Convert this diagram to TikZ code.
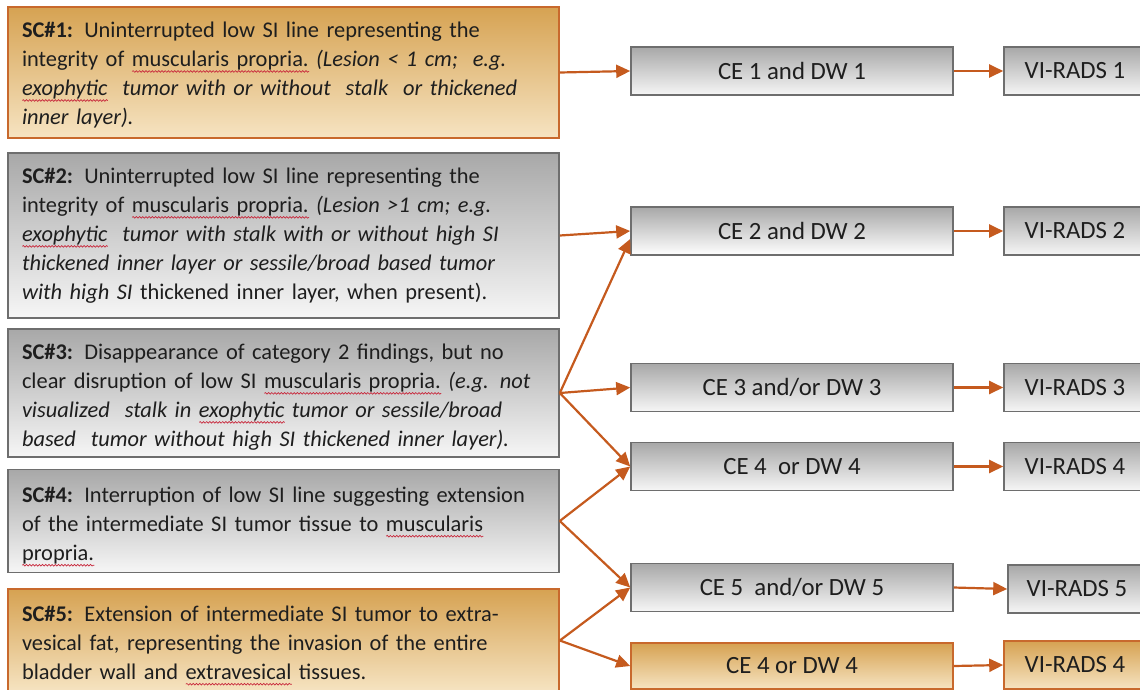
\documentclass[tikz,border=0pt]{standalone}
\usepackage{fontspec}
\setmainfont{Carlito}
\usetikzlibrary{arrows.meta,decorations.pathmorphing}
\definecolor{arr}{RGB}{197,90,30}
\definecolor{obord}{RGB}{200,105,45}
\definecolor{otop}{RGB}{214,162,82}
\definecolor{obot}{RGB}{246,228,194}
\definecolor{gbord}{RGB}{110,110,110}
\definecolor{gtop}{RGB}{168,168,168}
\definecolor{gbot}{RGB}{246,246,246}
\definecolor{txt}{RGB}{30,30,30}
\definecolor{wave}{RGB}{200,40,60}
\newsavebox\wbox
\newcommand\redwave[1]{\leavevmode\sbox\wbox{#1}\rlap{\tikz[baseline=0pt]\draw[wave,line width=0.7pt,decorate,decoration={snake,amplitude=0.8pt,segment length=3.2pt}] (0pt,-5pt) -- (\wd\wbox,-5pt);}\usebox\wbox}
\begin{document}
\begin{tikzpicture}[x=1pt,y=-1pt,font=\fontsize{22.4}{29}\selectfont,text=txt,
  sc/.style={draw,line width=1.6pt,minimum width=551pt,minimum height=#1,inner sep=0pt},
  sctext/.style={text width=523pt,inner sep=0pt,align=left},
  obox/.style={draw=obord,top color=otop,bottom color=obot},
  gbox/.style={draw=gbord,top color=gtop,bottom color=gbot},
  mid/.style={draw,line width=1.6pt,minimum width=322pt,minimum height=48pt,inner sep=0pt,font=\fontsize{24.8}{29}\selectfont},
  rad/.style={draw,line width=1.6pt,minimum width=142pt,minimum height=48pt,inner sep=0pt,font=\fontsize{24.8}{29}\selectfont},
  link/.style={draw=arr,line width=2.2pt,-{Triangle[length=14pt,width=13pt]}}]
\useasboundingbox (0,0) rectangle (1140,689);
\clip (0,0) rectangle (1140,689);

% left boxes
\node[sc=131pt,obox] (sc1) at (283.5,72.5) {};
\node[sctext] (t1) at ([yshift=-2.5pt]sc1.center) {\textbf{SC\#1:} Uninterrupted low SI line representing the\\
integrity of \redwave{muscularis propria.} \textit{(Lesion < 1 cm;\ \ e.g.}\\
\textit{\redwave{exophytic}\ \ tumor with or without\ \ stalk\ \ or thickened}\\
\textit{inner layer).}};

\node[sc=165pt,gbox] (sc2) at (283.5,235.5) {};
\node[sctext] (t2) at (sc2.center) {\textbf{SC\#2:} Uninterrupted low SI line representing the\\
integrity of \redwave{muscularis propria.} \textit{(Lesion >1 cm; e.g.}\\
\textit{\redwave{exophytic}\ \ tumor with stalk with or without high SI}\\
\textit{thickened inner layer or sessile/broad based tumor}\\
\textit{with high SI} thickened inner layer, when present).};

\node[sc=128pt,gbox] (sc3) at (283.5,393) {};
\node[sctext] (t3) at ([yshift=-4pt]sc3.center) {\textbf{SC\#3:} Disappearance of category 2 findings, but no\\
clear disruption of low SI \redwave{muscularis propria.} \textit{(e.g. not}\\
\textit{visualized\ \ stalk in \redwave{exophytic} tumor or sessile/broad}\\
\textit{based\ \ tumor without high SI thickened inner layer).}};

\node[sc=103pt,gbox] (sc4) at (283.5,521) {};
\node[sctext] (t4) at ([yshift=-5.5pt]sc4.center) {\textbf{SC\#4:} Interruption of low SI line suggesting extension\\
of the intermediate SI tumor tissue to \redwave{muscularis}\\
\redwave{propria.}};

\node[sc=103pt,obox] (sc5) at (283.5,640.5) {};
\node[sctext] (t5) at ([yshift=-5pt]sc5.center) {\textbf{SC\#5:} Extension of intermediate SI tumor to extra-\\
vesical fat, representing the invasion of the entire\\
bladder wall and \redwave{extravesical} tissues.};

% middle boxes
\node[mid,gbox] (ce1) at (792,71) {CE 1 and DW 1};
\node[mid,gbox,bottom color=white] (ce2) at (792,231) {CE 2 and DW 2};
\node[mid,gbox] (ce3) at (792,387.5) {CE 3 and/or DW 3};
\node[mid,gbox] (ce4) at (792,466.5) {CE 4\ \ or DW 4};
\node[mid,gbox] (ce5) at (792,587.5) {CE 5\ \ and/or DW 5};
\node[mid,obox,minimum height=46pt] (ce6) at (792,666) {CE 4 or DW 4};

% right boxes
\node[rad,gbox] (vr1) at (1075,71) {VI-RADS 1};
\node[rad,gbox] (vr2) at (1075,231) {VI-RADS 2};
\node[rad,gbox] (vr3) at (1075,387.5) {VI-RADS 3};
\node[rad,gbox] (vr4) at (1075,466.5) {VI-RADS 4};
\node[rad,gbox,minimum width=138pt] (vr5) at (1077,589) {VI-RADS 5};
\node[rad,obox] (vr6) at (1075,665) {VI-RADS 4};

% connectors
\draw[link] (sc1.east) -- (ce1.west);
\draw[link] (sc2.east) -- (ce2.west);
\draw[link] (sc3.east) -- ([yshift=-8pt]ce2.west);
\draw[link] (sc3.east) -- (ce3.west);
\draw[link] (sc3.east) -- (ce4.west);
\draw[link] (sc4.east) -- (ce4.west);
\draw[link] (sc4.east) -- (ce5.west);
\draw[link] (sc5.east) -- (ce5.west);
\draw[link] (sc5.east) -- (ce6.west);
\draw[link] (ce1.east) -- (vr1.west);
\draw[link] (ce2.east) -- (vr2.west);
\draw[link] (ce3.east) -- (vr3.west);
\draw[link] (ce4.east) -- (vr4.west);
\draw[link] (ce5.east) -- (vr5.west);
\draw[link] (ce6.east) -- (vr6.west);
\end{tikzpicture}
\end{document}
